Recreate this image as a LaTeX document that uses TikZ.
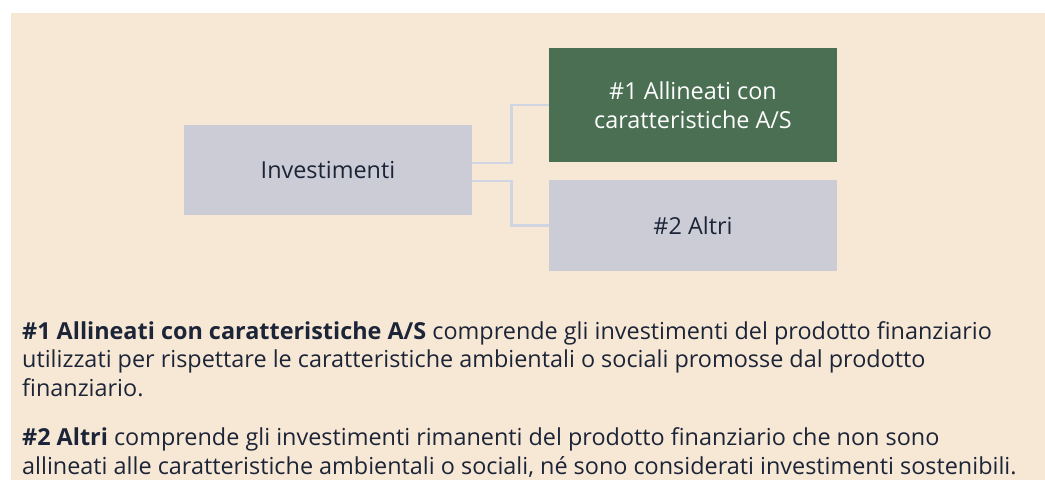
\documentclass[tikz,border=0pt]{standalone}
\usepackage{fontspec}
\setmainfont{Open Sans}
\usetikzlibrary{positioning}
\definecolor{beige}{HTML}{F7E8D5}
\definecolor{boxgray}{HTML}{CCCCD6}
\definecolor{boxgreen}{HTML}{4A6F53}
\definecolor{linkgray}{HTML}{CFD5E3}
\definecolor{ink}{HTML}{1C2438}
\tikzset{
  box/.style={minimum width=288pt, inner sep=0pt, align=center, font=\fontsize{23.4}{29}\selectfont},
  link/.style={draw=linkgray, line width=2.8pt},
  para/.style={anchor=base west, inner sep=0pt, align=left, text=ink, font=\fontsize{23.4}{28.5}\selectfont},
}
\begin{document}
\begin{tikzpicture}[x=1pt,y=-1pt]
\useasboundingbox (0,0) rectangle (1045,480);
\fill[beige] (11,13) rectangle (1045,480);
\node[box, fill=boxgray, text=ink, minimum height=90pt] (inv) at (328,170) {Investimenti};
\node[box, fill=boxgreen, text=white, minimum height=114pt] (alli) at (693,105) {\#1 Allineati con\\caratteristiche A/S};
\node[box, fill=boxgray, text=ink, minimum height=91pt] (altri) at (693,225.5) {\#2 Altri};
\draw[link] ([yshift=7pt]inv.east) -- ++(39,0) |- (alli.west);
\draw[link] ([yshift=-11pt]inv.east) -- ++(39,0) |- (altri.west);
% last-line baselines
\node[para] (nota1) at (22,396) {\textbf{\#1 Allineati con caratteristiche A/S} comprende gli investimenti del prodotto finanziario\\
utilizzati per rispettare le caratteristiche ambientali o sociali promosse dal prodotto\\
finanziario.};
\node[para] (nota2) at (22,474) {\textbf{\#2 Altri} comprende gli investimenti rimanenti del prodotto finanziario che non sono\\
allineati alle caratteristiche ambientali o sociali, né sono considerati investimenti sostenibili.};
\end{tikzpicture}
\end{document}
